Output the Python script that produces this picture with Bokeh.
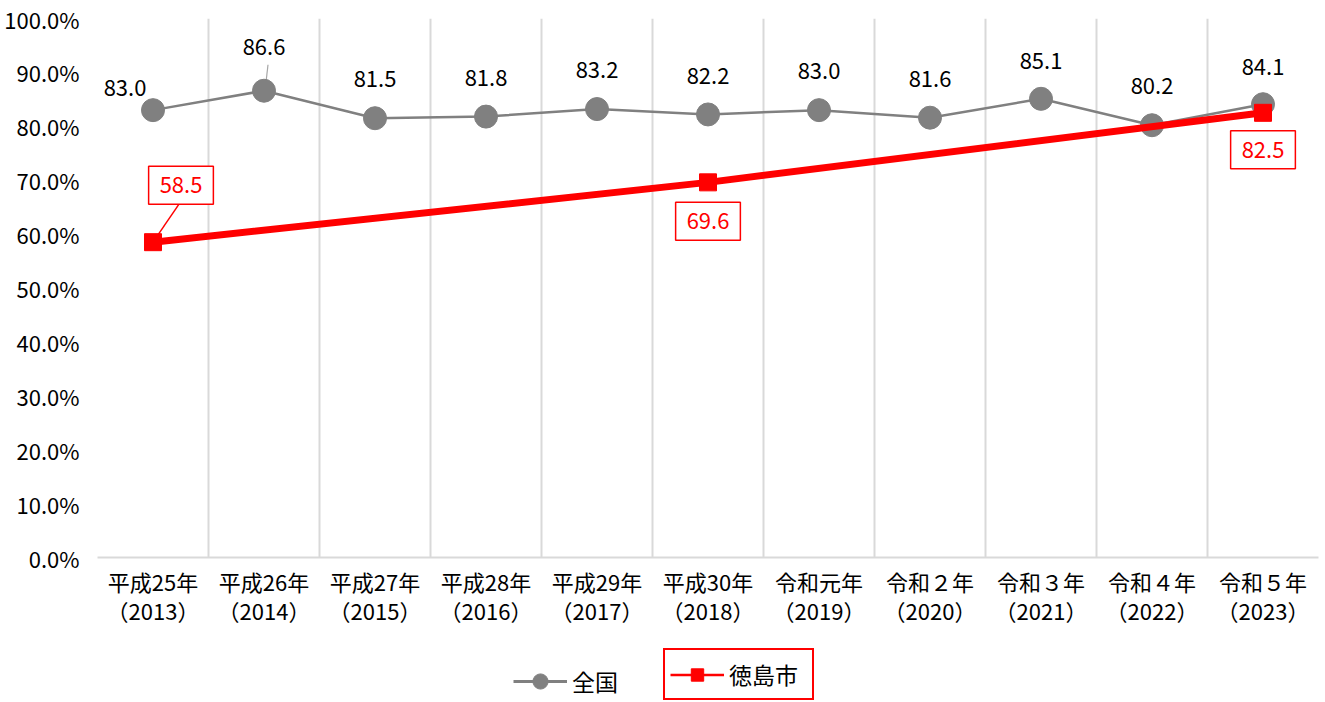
from bokeh.plotting import figure
from bokeh.layouts import column
from bokeh.models import (ColumnDataSource, Label, Legend, LegendItem, FixedTicker,
                          PrintfTickFormatter, Range1d)
from bokeh.embed import file_html
from bokeh.resources import INLINE

categories = ["平成25年\n（2013）", "平成26年\n（2014）", "平成27年\n（2015）", "平成28年\n（2016）",
              "平成29年\n（2017）", "平成30年\n（2018）", "令和元年\n（2019）", "令和２年\n（2020）",
              "令和３年\n（2021）", "令和４年\n（2022）", "令和５年\n（2023）"]
national = [83.0, 86.6, 81.5, 81.8, 83.2, 82.2, 83.0, 81.6, 85.1, 80.2, 84.1]
tokushima_pos = [0, 5, 10]
tokushima = [58.5, 69.6, 82.5]
yticks = [0, 10, 20, 30, 40, 50, 60, 70, 80, 90, 100]

FONT = "Noto Sans CJK JP"
GRAY = "#808080"
RED = "#ff0000"
FS = "22px"
LEFT = 97

xs = list(range(len(categories)))

p = figure(width=1325, height=640, output_backend="svg", toolbar_location=None,
           x_range=Range1d(-0.5, len(categories) - 0.5), y_range=Range1d(0, 100),
           min_border_left=LEFT, min_border_right=7, min_border_top=18, min_border_bottom=83)
p.outline_line_color = None
p.background_fill_color = "white"

# axes
p.xaxis.ticker = FixedTicker(ticks=xs)
p.xaxis.major_label_overrides = {i: c for i, c in enumerate(categories)}
p.xaxis.major_tick_line_color = None
p.xaxis.minor_tick_line_color = None
p.xaxis.axis_line_color = "#d9d9d9"
p.xaxis.axis_line_width = 2
p.xaxis.major_label_text_font = FONT
p.xaxis.major_label_text_font_size = FS
p.xaxis.major_label_text_color = "black"
p.xaxis.major_label_text_line_height = 0.92
p.xaxis.major_label_standoff = 1

p.yaxis.ticker = FixedTicker(ticks=yticks)
p.yaxis.formatter = PrintfTickFormatter(format="%.1f%%")
p.yaxis.axis_line_color = None
p.yaxis.major_tick_line_color = None
p.yaxis.minor_tick_line_color = None
p.yaxis.major_label_text_font = FONT
p.yaxis.major_label_text_font_size = FS
p.yaxis.major_label_text_color = "black"
p.yaxis.major_label_standoff = 12

p.xgrid.ticker = FixedTicker(ticks=[i - 0.5 for i in range(len(categories) + 1)])
p.xgrid.grid_line_color = "#d9d9d9"
p.xgrid.grid_line_width = 2
p.ygrid.grid_line_color = None

# pixel -> data scale for leader lines
sx = len(categories) / 1221.0
sy = 100.0 / 539.0

# gray leader line for 86.6
p.segment(x0=[xs[1] + 1 * sx], y0=[national[1]], x1=[xs[1] + 4 * sx], y1=[national[1] + 26 * sy],
          line_color="#a6a6a6", line_width=1.2)

src_n = ColumnDataSource(dict(x=xs, y=national))
p.line("x", "y", source=src_n, line_color=GRAY, line_width=2.5)
p.scatter("x", "y", source=src_n, marker="circle", size=23, fill_color=GRAY, line_color=GRAY)

# red leader for 58.5
p.segment(x0=[tokushima_pos[0]], y0=[tokushima[0]], x1=[tokushima_pos[0] + 26 * sx],
          y1=[tokushima[0] + 38 * sy], line_color=RED, line_width=1.5)

src_t = ColumnDataSource(dict(x=tokushima_pos, y=tokushima))
p.line("x", "y", source=src_t, line_color=RED, line_width=7)
p.scatter("x", "y", source=src_t, marker="square", size=17, fill_color=RED, line_color=RED)

# data labels
n_dx = [-28, 0, 0, 0, 0, 0, 0, 0, 0, 0, 0]
n_dy = [22, 44, 39, 39, 39, 38, 39, 39, 38, 39, 37]
for i, v in enumerate(national):
    p.add_layout(Label(x=xs[i], y=v, text=f"{v:.1f}", x_offset=n_dx[i], y_offset=n_dy[i],
                       text_align="center", text_baseline="middle", text_font=FONT,
                       text_font_size=FS, text_color="black"))

t_dx = [28, 0, 0]
t_dy = [57, -39, -37]
for i, v in enumerate(tokushima):
    p.add_layout(Label(x=tokushima_pos[i], y=v, text=f"{v:.1f}", x_offset=t_dx[i], y_offset=t_dy[i],
                       text_align="center", text_baseline="middle", text_font=FONT,
                       text_font_size=FS, text_color=RED, padding=11,
                       border_line_color=RED, border_line_width=1.5,
                       background_fill_color="white"))

# legend strip (frame aligned with main frame by the column layout)
lf = figure(width=1325, height=62, output_backend="svg", toolbar_location=None,
            x_axis_type=None, y_axis_type=None, min_border=0,
            x_range=Range1d(0, 1), y_range=Range1d(0, 1))
lf.outline_line_color = None
lf.xgrid.grid_line_color = None
lf.ygrid.grid_line_color = None

# off-range dummy points so that legend glyphs have visuals
lg_line_n = lf.line(x=[-9, -8], y=[-9, -9], line_color=GRAY, line_width=3)
lg_sc_n = lf.scatter(x=[-9], y=[-9], marker="circle", fill_color=GRAY, line_color=GRAY)
lg_line_t = lf.line(x=[-9, -8], y=[-9, -9], line_color=RED, line_width=2.5)
lg_sc_t = lf.scatter(x=[-9], y=[-9], marker="square", fill_color=RED, line_color=RED)

common = dict(padding=5, spacing=0, margin=0, glyph_width=54, label_height=38,
              label_standoff=5, label_text_font=FONT, label_text_font_size="23px",
              label_text_color="black", background_fill_alpha=0)
leg1 = Legend(items=[LegendItem(label="全国", renderers=[lg_line_n, lg_sc_n])],
              location=(513 - LEFT, 2), border_line_color=None, glyph_height=38, **common)
leg2 = Legend(items=[LegendItem(label="徳島市", renderers=[lg_line_t, lg_sc_t])],
              location=(663 - LEFT, 2), border_line_color=RED, border_line_width=2,
              border_line_alpha=1.0, glyph_height=31, label_width=78, **common)
lf.add_layout(leg1, "center")
lf.add_layout(leg2, "center")

layout = column(p, lf, spacing=0)
open("out.html", "w").write(file_html(layout, INLINE))
